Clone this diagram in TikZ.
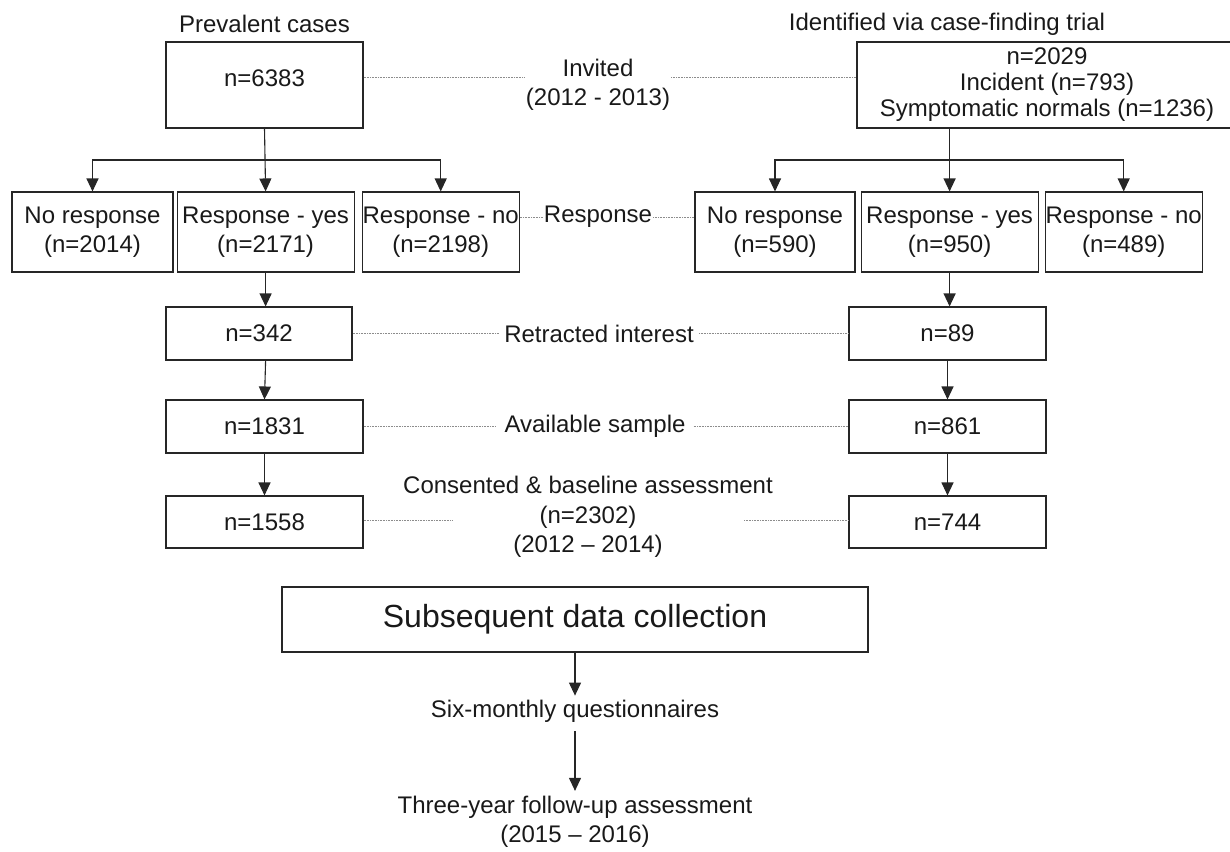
\documentclass[tikz,border=0pt]{standalone}
\usepackage{fontspec}
\setmainfont{Liberation Sans}
\usetikzlibrary{positioning,arrows.meta,calc}

\begin{document}
\begin{tikzpicture}[
  x=1pt, y=-1pt,
  font=\fontsize{24}{29.5}\selectfont,
  box/.style={rectangle, draw=black!85, line width=1.1pt, text=black!90, align=center, inner sep=0pt, minimum height=#1},
  box/.default=80pt,
  lbl/.style={align=center, text=black!90, inner sep=5pt},
  arrow/.style={-{Triangle[width=12pt,length=13pt]}, line width=1.1pt, draw=black!85},
  link/.style={draw=black!45, line width=0.8pt, dash pattern=on 0.8pt off 0.8pt},
]
  \useasboundingbox (0,0) rectangle (1230,851);

  % sources
  \node[lbl] (prevlbl) at (264.5,24) {Prevalent cases};
  \node[lbl] (identlbl) at (947,24) {Identified via case-finding trial};
  \node[box=86pt, minimum width=197pt, text depth=14pt] (prevbox) at (264.5,85) {n=6383};
  \node[box=86pt, minimum width=380pt, font=\fontsize{24}{26}\selectfont] (identbox) at (1047,85) {n=2029\\Incident (n=793)\\Symptomatic normals (n=1236)};
  \node[lbl, inner sep=1pt] (invited) at (598,85) {Invited\\(2012 - 2013)};

  % response row
  \node[box, minimum width=161pt] (nrL) at (92.5,232) {No response\\(n=2014)};
  \node[box, minimum width=177pt, right=3pt of nrL] (ryL) {Response - yes\\(n=2171)};
  \node[box, minimum width=157pt, right=7pt of ryL] (rnL) {Response - no\\(n=2198)};
  \node[box, minimum width=160pt] (nrR) at (775,232) {No response\\(n=590)};
  \node[box, minimum width=177pt, right=5pt of nrR] (ryR) {Response - yes\\(n=950)};
  \node[box, minimum width=157pt, right=6pt of ryR] (rnR) {Response - no\\(n=489)};
  \node[lbl, inner sep=1pt] (resp) at (598,217) {Response};

  % follow through
  \node[box=53pt, minimum width=186pt] (r342) at (259,333.5) {n=342};
  \node[box=53pt, minimum width=197pt] (r1831) at (264.5,426.5) {n=1831};
  \node[box=52pt, minimum width=197pt] (r1558) at (264.5,522) {n=1558};
  \node[box=53pt, minimum width=197pt] (r89) at (947.5,333.5) {n=89};
  \node[box=53pt, minimum width=197pt] (r861) at (947.5,426.5) {n=861};
  \node[box=52pt, minimum width=197pt] (r744) at (947.5,522) {n=744};
  \node[lbl] (retract) at (599,333.5) {Retracted interest};
  \node[lbl, inner sep=8pt] (avail) at (595,426.5) {Available sample};
  \node[lbl, inner sep=0pt] (consent) at (588,517) {Consented \& baseline assessment\\(n=2302)\\(2012 -- 2014)};
  \coordinate (consL) at (453,520);
  \coordinate (consR) at (744,520);

  % later data
  \node[box=65pt, minimum width=586pt, font=\fontsize{32}{38}\selectfont] (subs) at (575,619.5) {Subsequent data collection};
  \node[lbl, inner ysep=4pt] (six) at (575,711) {Six-monthly questionnaires};
  \node[lbl] (three) at (575,822) {Three-year follow-up assessment\\(2015 -- 2016)};

  % arrows
  \coordinate (splitL) at ($(prevbox.south)!.5!(ryL.north)$);
  \draw[arrow] (prevbox.south) -- (ryL.north);
  \draw[arrow] (splitL) -| (nrL.north);
  \draw[arrow] (splitL) -| (rnL.north);
  \coordinate (topR) at (ryR.north |- identbox.south);
  \coordinate (splitR) at ($(topR)!.5!(ryR.north)$);
  \draw[arrow] (topR) -- (ryR.north);
  \draw[arrow] (splitR) -| (nrR.north);
  \draw[arrow] (splitR) -| (rnR.north);

  \draw[arrow] (ryL.south) -- (ryL.south |- r342.north);
  \draw[arrow] (ryL.south |- r342.south) -- (r1831.north);
  \draw[arrow] (r1831.south) -- (r1558.north);
  \draw[arrow] (ryR.south) -- (ryR.south |- r89.north);
  \draw[arrow] (r89.south) -- (r861.north);
  \draw[arrow] (r861.south) -- (r744.north);

  \draw[arrow] (subs.south) -- (six.north);
  \draw[arrow] ([yshift=-5pt]six.south) -- (three.north);

  % dotted links
  \draw[link] ([yshift=8pt]prevbox.east) -- ([yshift=8pt]prevbox.east -| invited.west);
  \draw[link] ([yshift=8pt]identbox.west -| invited.east) -- ([yshift=8pt]identbox.west);
  \draw[link] (rnL.east |- resp.west) -- (resp.west);
  \draw[link] (resp.east) -- (nrR.west |- resp.east);
  \draw[link] (r342.east) -- (retract.west);
  \draw[link] (retract.east) -- (r89.west);
  \draw[link] (r1831.east) -- (avail.west);
  \draw[link] (avail.east) -- (r861.west);
  \draw[link] (r1558.east |- consL) -- (consL);
  \draw[link] (consR) -- (r744.west |- consR);
\end{tikzpicture}
\end{document}
